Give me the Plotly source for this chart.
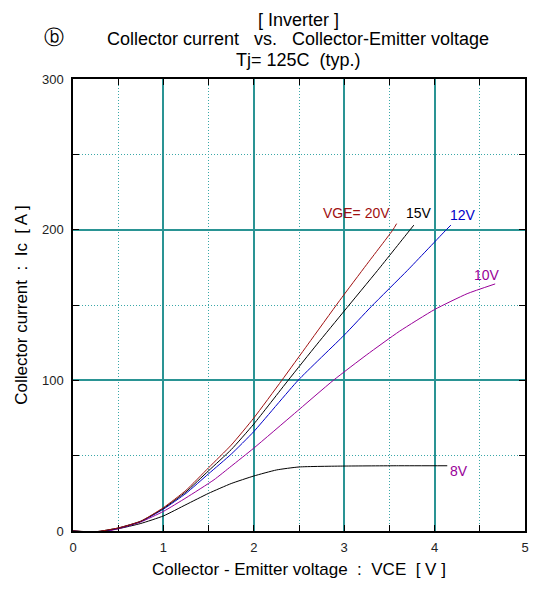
import plotly.graph_objects as go

# VCE [V] / Ic [A] per gate voltage
vce_20 = [0, 0.25, 0.5, 0.75, 1.0, 1.25, 1.5, 1.75, 2.0, 2.31, 2.6, 2.95, 3.25, 3.54, 3.58]
ic_20 = [0, -0.5, 2, 6.5, 15.5, 27, 42, 57, 75, 100, 124, 153, 177, 200, 204]

vce_15 = [0, 0.25, 0.5, 0.75, 1.0, 1.25, 1.5, 1.75, 2.0, 2.38, 2.7, 3.0, 3.37, 3.73, 3.77]
ic_15 = [0, -0.5, 2, 6.5, 15, 26, 40, 54, 71, 100, 124, 146, 173, 200, 203]

vce_12 = [0, 0.25, 0.5, 0.75, 1.0, 1.25, 1.5, 1.75, 2.0, 2.49, 3.0, 3.30, 3.70, 4.13, 4.18]
ic_12 = [0, -0.8, 1.8, 6.3, 14.5, 25, 38, 51, 66, 100, 130, 149, 173, 200, 203]

vce_10 = [0, 0.25, 0.5, 0.75, 1.0, 1.25, 1.56, 1.75, 2.0, 2.45, 2.88, 3.25, 3.61, 4.0, 4.36, 4.67]
ic_10 = [0, -1.5, 1.5, 6, 13, 22, 34, 43, 55, 78, 100, 117, 132.5, 147, 157.5, 164]

vce_8 = [0, 0.25, 0.5, 0.75, 1.0, 1.25, 1.5, 1.75, 2.0, 2.25, 2.5, 3.0, 3.6, 4.14]
ic_8 = [0, -0.7, 1.5, 5, 10, 17.5, 25, 31.5, 36.5, 40.5, 42.5, 43.1, 43.3, 43.3]

# (label, x, y, line colour, label x, label y, label colour)
series = [
    ("8V", vce_8, ic_8, "#000000", 4.27, 40, "#990099"),
    ("10V", vce_10, ic_10, "#990099", 4.58, 170, "#990099"),
    ("12V", vce_12, ic_12, "#0000C8", 4.31, 210, "#0000C8"),
    ("15V", vce_15, ic_15, "#000000", 3.83, 211, "#000000"),
    ("VGE= 20V", vce_20, ic_20, "#A01010", 3.14, 211, "#A01010"),
]

x_ticks = [0, 1, 2, 3, 4, 5]
y_ticks = [0, 100, 200, 300]

teal = "#2A9494"
teal_minor = "#3AA8A8"

L, R, T, B, W, H = 73, 13, 79, 61, 538, 592
pw, ph = W - L - R, H - T - B

fig = go.Figure()
annotations = []
for name, xs, ys, col, lx, ly, lcol in series:
    fig.add_trace(go.Scatter(x=xs, y=ys, mode="lines", name=name,
                             line=dict(color=col, width=1, shape="spline", smoothing=0.5),
                             showlegend=False))
    annotations.append(dict(x=lx, y=ly, xref="x", yref="y", text=name, showarrow=False,
                            xanchor="center", yanchor="middle",
                            font=dict(size=14, color=lcol)))

def px2paper(px, py):
    return (px - L) / pw, (H - py - B) / ph

for txt, yy in [("[ Inverter ]", 20), ("Collector current   vs.   Collector-Emitter voltage", 39),
                ("Tj= 125C  (typ.)", 60)]:
    ax, ay = px2paper(298, yy)
    annotations.append(dict(x=ax, y=ay, xref="paper", yref="paper", text=txt,
                            xanchor="center", yanchor="middle",
                            showarrow=False, font=dict(size=18, color="#000")))
bx, by = px2paper(54, 37)
annotations.append(dict(x=bx, y=by, xref="paper", yref="paper", text="ⓑ", showarrow=False,
                        xanchor="center", yanchor="middle",
                        font=dict(size=20, color="#000", family="DejaVu Sans")))

axis_common = dict(showline=True, linecolor="black", linewidth=1.5, mirror="allticks",
                   ticks="inside", ticklen=6, tickcolor="black", zeroline=False,
                   showgrid=True, gridcolor=teal, gridwidth=1.5, automargin=False,
                   tickfont=dict(size=13, color="#222"), layer="below traces")

fig.update_xaxes(range=[0, 5], tickvals=x_ticks, ticklabelstandoff=4,
                 minor=dict(dtick=0.5, ticks="inside", ticklen=6, tickcolor="black",
                            showgrid=True, gridcolor=teal_minor, griddash="1px,2px", gridwidth=1),
                 title=dict(text="Collector - Emitter voltage  :  VCE  [ V ]", font=dict(size=17), standoff=9),
                 **axis_common)
fig.update_yaxes(range=[0, 300], tickvals=y_ticks, ticklabelstandoff=5,
                 minor=dict(dtick=50, ticks="inside", ticklen=6, tickcolor="black",
                            showgrid=True, gridcolor=teal_minor, griddash="1px,2px", gridwidth=1),
                 title=dict(text="Collector current  :  Ic  [ A ]", font=dict(size=17), standoff=10),
                 **axis_common)

fig.update_layout(width=W, height=H, margin=dict(l=L, r=R, t=T, b=B),
                  plot_bgcolor="white", paper_bgcolor="white",
                  font=dict(family="Liberation Sans, Arial", color="#000"),
                  annotations=annotations)

fig.write_html("out.html", config={"displayModeBar": False},
               post_script="document.body.style.margin='0';")
